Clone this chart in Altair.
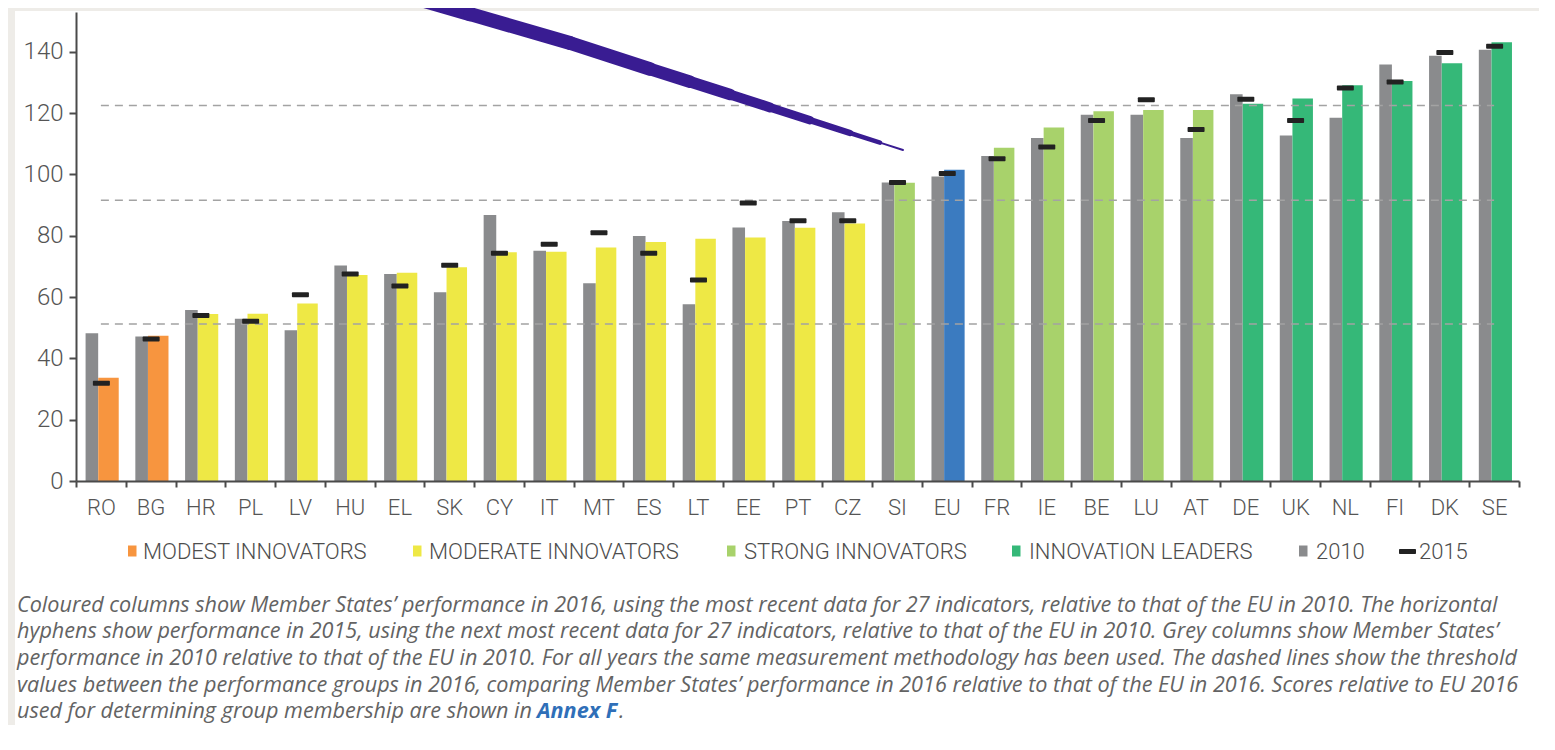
import altair as alt
import pandas as pd

# ---------------- data ----------------
countries = ["RO", "BG", "HR", "PL", "LV", "HU", "EL", "SK", "CY", "IT", "MT", "ES", "LT", "EE",
             "PT", "CZ", "SI", "EU", "FR", "IE", "BE", "LU", "AT", "DE", "UK", "NL", "FI", "DK", "SE"]
groups = (["MODEST"] * 2 + ["MODERATE"] * 14 + ["STRONG"] + ["EU"] + ["STRONG"] * 5 + ["LEADERS"] * 6)
score_2016 = [33.7, 47.4, 54.5, 54.6, 57.9, 67.2, 67.9, 69.7, 74.6, 74.8, 76.2, 78.0, 79.0, 79.4,
              82.6, 84.0, 97.3, 101.5, 108.7, 115.3, 120.6, 121.0, 121.0, 123.1, 124.8, 129.1, 130.5, 136.3, 143.1]
score_2010 = [48.2, 47.1, 55.8, 52.9, 49.2, 70.3, 67.5, 61.6, 86.8, 75.1, 64.5, 79.9, 57.7, 82.7,
              84.8, 87.7, 97.4, 99.3, 106.0, 111.9, 119.5, 119.5, 111.9, 126.2, 112.7, 118.5, 135.9, 138.7, 140.7]
score_2015 = [31.9, 46.3, 54.0, 52.1, 60.8, 67.5, 63.6, 70.4, 74.3, 77.2, 81.0, 74.3, 65.6, 90.7,
              84.9, 84.9, 97.4, 100.3, 105.1, 109.0, 117.6, 124.4, 114.7, 124.5, 117.6, 128.2, 130.2, 139.8, 141.8]
thresholds = [51.2, 91.6, 122.5]
y_ticks = [0, 20, 40, 60, 80, 100, 120, 140]

legend_labels = ["MODEST INNOVATORS", "MODERATE INNOVATORS", "STRONG INNOVATORS",
                 "INNOVATION LEADERS", "2010", "2015"]
caption_lines = [
    "Coloured columns show Member States\u2019 performance in 2016, using the most recent data for 27 indicators, relative to that of the EU in 2010. The horizontal",
    "hyphens show performance in 2015, using the next most recent data for 27 indicators, relative to that of the EU in 2010. Grey columns show Member States\u2019",
    "performance in 2010 relative to that of the EU in 2010. For all years the same measurement methodology has been used. The dashed lines show the threshold",
    "values between the performance groups in 2016, comparing Member States\u2019 performance in 2016 relative to that of the EU in 2016. Scores relative to EU 2016",
    "used for determining group membership are shown in ",
]
annex_text = "Annex F"

# ---------------- styles / layout ----------------
group_domain = ["MODEST", "MODERATE", "STRONG", "LEADERS", "EU"]
group_colors = ["#F7953F", "#EEE845", "#A8D26B", "#35B878", "#3B7BC0"]
legend_colors = ["#F7953F", "#EEE845", "#A8D26B", "#35B878", "#8A8B8D", "#222222"]
GREY = "#8A8B8D"
HYPHEN = "#222222"
TEXT = "#555555"
FONT = "Roboto"
CAP_FONT = "Open Sans"
CAP_SIZE = 21.6

W, H = 1443, 469
PX0, PY0 = 76, 12          # page position of plot origin
PAD_L, PAD_T, PAD_R, PAD_B = 68, 4, 20, 244


def px(x):
    return x - PX0


def py(y):
    return y - PY0


legend_sym_x = [128, 413, 727, 1012, 1299, 1399]
legend_text_x = [143, 429, 744, 1029, 1316, 1419]
legend_base_y = 559
caption_x = 17
caption_base_y = [611.7, 638.3, 665.0, 691.7, 718.3]
annex_x = 537
dot_x = 619
# hand-drawn annotation stroke (page pixels) and its widths per segment
stroke_pts = [(400, -6.3), (470, 14), (570, 43), (650, 69), (690, 81.8), (730, 94.6), (770, 107.4),
              (810, 120.2), (850, 133), (880, 142.6), (903, 150)]
stroke_w = [14.5, 14, 13.5, 12.5, 11.5, 10, 8.5, 6.5, 4.5, 2]
STROKE_COLOR = "#391C92"

# ---------------- chart ----------------
df = pd.DataFrame({"country": countries, "group": groups,
                   "s2016": score_2016, "s2010": score_2010, "s2015": score_2015})
thr = pd.DataFrame({"country": [countries[0]] * len(thresholds),
                    "country_end": [countries[-1]] * len(thresholds),
                    "value": thresholds})
dummy = pd.DataFrame({"d": [0]})

x_axis = alt.Axis(title=None, labelAngle=0, tickBand="extent", tickSize=6, tickWidth=2,
                  tickColor="#4a4a4a", domainColor="#4a4a4a", domainWidth=2,
                  labelFont=FONT, labelFontSize=22, labelColor=TEXT, labelPadding=10,
                  labelFontWeight=300, zindex=1)
y_axis = alt.Axis(title=None, values=y_ticks, grid=False, tickSize=7, tickWidth=2,
                  tickColor="#4a4a4a", domainColor="#4a4a4a", domainWidth=2,
                  labelFont=FONT, labelFontSize=24, labelColor=TEXT, labelPadding=6,
                  labelFontWeight=300, zindex=1)
x_scale = alt.Scale(domain=countries, paddingInner=0, paddingOuter=0)
x_enc = alt.X("country:N", sort=None, scale=x_scale, axis=x_axis)
y_scale = alt.Scale(domain=[0, 153], nice=False, zero=True)

layers = []

# white panel over textured background
layers.append(alt.Chart(dummy).mark_rect(color="white").encode(
    x=alt.value(px(15)), x2=alt.value(W + PAD_R + 5),
    y=alt.value(py(11)), y2=alt.value(H + PAD_B + 5)))

bars_2010 = alt.Chart(df).mark_bar(width=12.6, xOffset=-9, color=GREY).encode(
    x=x_enc, y=alt.Y("s2010:Q", scale=y_scale, axis=y_axis))
bars_2016 = alt.Chart(df).mark_bar(width=20.5, xOffset=7.6).encode(
    x=x_enc, y=alt.Y("s2016:Q", scale=y_scale, axis=y_axis),
    color=alt.Color("group:N", scale=alt.Scale(domain=group_domain, range=group_colors), legend=None))
rules = alt.Chart(thr).mark_rule(color="#A3A3A3", strokeDash=[8, 6], strokeWidth=1.5).encode(
    x=x_enc, x2="country_end:N", y=alt.Y("value:Q", scale=y_scale, axis=y_axis))
hyphens = alt.Chart(df).mark_tick(color=HYPHEN, size=17, thickness=5, xOffset=0.5,
                                  cornerRadius=1, opacity=1).encode(
    x=x_enc, y=alt.Y("s2015:Q", scale=y_scale, axis=y_axis))
layers += [bars_2010, bars_2016, rules, hyphens]

# annotation stroke
for (p0, p1), w in zip(zip(stroke_pts[:-1], stroke_pts[1:]), stroke_w):
    layers.append(alt.Chart(dummy).mark_rule(color=STROKE_COLOR, strokeWidth=w, strokeCap="round").encode(
        x=alt.value(px(p0[0])), y=alt.value(py(p0[1])),
        x2=alt.value(px(p1[0])), y2=alt.value(py(p1[1]))))

# legend
for i, (lab, col) in enumerate(zip(legend_labels, legend_colors)):
    if i < 5:
        layers.append(alt.Chart(dummy).mark_rect(color=col).encode(
            x=alt.value(px(legend_sym_x[i])), x2=alt.value(px(legend_sym_x[i] + 8.5)),
            y=alt.value(py(545.5)), y2=alt.value(py(556.5))))
    else:
        layers.append(alt.Chart(dummy).mark_rect(color=col, cornerRadius=1).encode(
            x=alt.value(px(legend_sym_x[i])), x2=alt.value(px(legend_sym_x[i] + 17)),
            y=alt.value(py(549)), y2=alt.value(py(554))))
    layers.append(alt.Chart(dummy).mark_text(
        text=lab, align="left", baseline="alphabetic", font=FONT, fontSize=22,
        fontWeight=300, color="#4d4d4d").encode(
        x=alt.value(px(legend_text_x[i])), y=alt.value(py(legend_base_y))))

# caption
for line, by in zip(caption_lines, caption_base_y):
    layers.append(alt.Chart(dummy).mark_text(
        text=line, align="left", baseline="alphabetic", font=CAP_FONT, fontSize=CAP_SIZE,
        fontStyle="italic", color="#636363").encode(x=alt.value(px(caption_x)), y=alt.value(py(by))))
layers.append(alt.Chart(dummy).mark_text(
    text=annex_text, align="left", baseline="alphabetic", font=CAP_FONT, fontSize=CAP_SIZE,
    fontStyle="italic", fontWeight="bold", color="#2F6FB8").encode(
    x=alt.value(px(annex_x)), y=alt.value(py(caption_base_y[-1]))))
layers.append(alt.Chart(dummy).mark_text(
    text=".", align="left", baseline="alphabetic", font=CAP_FONT, fontSize=CAP_SIZE,
    fontStyle="italic", color="#636363").encode(
    x=alt.value(px(dot_x)), y=alt.value(py(caption_base_y[-1]))))

chart = alt.layer(*layers).properties(
    width=W, height=H,
    padding={"left": PAD_L, "top": PAD_T, "right": PAD_R, "bottom": PAD_B},
    autosize=alt.AutoSizeParams(type="none"),
    background="#EEECE8",
).configure_view(stroke=None).configure(font=FONT)

chart.save("out.html", embed_options={"renderer": "svg", "actions": False})
